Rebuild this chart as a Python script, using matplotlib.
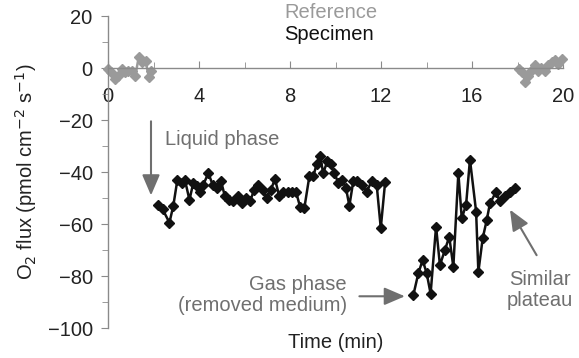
import numpy as np
import matplotlib
matplotlib.use("Agg")
import matplotlib.pyplot as plt
from matplotlib.ticker import MultipleLocator

plt.rcParams['font.family'] = ['Liberation Sans', 'DejaVu Sans']

# reference run (gray), before and after the measurement
ref1_t = [0.0, 0.15, 0.3, 0.45, 0.6, 0.75, 0.9, 1.05, 1.2, 1.35, 1.5, 1.65, 1.8, 1.9]
ref1_v = [-0.5, -1.7, -4.3, -3.0, -0.4, -1.7, -1.0, -1.2, -3.0, 4.1, 2.2, 2.8, -3.6, -1.0]
ref2_t = [18.05, 18.2, 18.35, 18.45, 18.6, 18.75, 18.9, 19.05, 19.2, 19.35, 19.5, 19.65, 19.8, 19.95]
ref2_v = [-0.4, -1.7, -5.5, -3.0, -1.0, 1.0, -1.0, 0.0, -1.0, 1.0, 2.2, 3.0, 1.5, 3.5]

# specimen, liquid phase
liq_t = [2.21, 2.40, 2.70, 2.87, 3.05, 3.24, 3.38, 3.58, 3.75, 3.93, 4.04, 4.19, 4.41, 4.60,
         4.78, 4.97, 5.14, 5.33, 5.51, 5.70, 5.88, 6.07, 6.24, 6.43, 6.61, 6.80, 6.97, 7.16,
         7.34, 7.53, 7.71, 7.90, 8.07, 8.26, 8.44, 8.63, 8.85, 9.02, 9.17, 9.32, 9.46, 9.64,
         9.79, 9.95, 10.12, 10.30, 10.46, 10.61, 10.78, 10.96, 11.15, 11.37, 11.59, 11.81,
         11.99, 12.18]
liq_v = [-52.6, -54.3, -59.5, -53.0, -43.0, -44.2, -43.0, -50.7, -44.2, -45.5, -47.5, -44.9,
         -40.4, -44.9, -46.2, -43.6, -49.4, -50.7, -51.3, -49.4, -52.0, -50.0, -51.3, -46.8,
         -44.9, -46.8, -50.0, -46.8, -42.7, -49.4, -47.5, -47.5, -47.5, -47.5, -53.3, -53.9,
         -41.7, -41.7, -37.1, -33.7, -40.4, -35.9, -37.1, -40.4, -44.2, -42.9, -46.2, -53.0,
         -43.6, -43.6, -44.9, -47.5, -43.6, -44.9, -61.6, -44.0]

# specimen, gas phase
gas_t = [13.42, 13.64, 13.83, 14.01, 14.18, 14.42, 14.59, 14.81, 15.00, 15.18, 15.40, 15.55,
         15.74, 15.91, 16.18, 16.28, 16.47, 16.65, 16.79, 17.05, 17.23, 17.45, 17.67, 17.89]
gas_v = [-87.4, -79.0, -73.9, -79.0, -86.8, -61.0, -75.8, -70.0, -64.9, -76.5, -40.4, -57.8,
         -52.6, -35.2, -55.2, -78.4, -65.5, -58.4, -52.0, -47.8, -51.3, -49.4, -47.5, -46.2]

gray_line = '#9a9a9a'
axis_col = '#8a8a8a'
note_col = '#6f6f6f'
fs = 14.5

fig = plt.figure(figsize=(5.79, 3.58), dpi=100)
ax = fig.add_axes([108 / 579, 1 - 328 / 358, (563 - 108) / 579, (328 - 16) / 358])

ax.plot(ref1_t, ref1_v, color=gray_line, marker='D', ms=5, lw=1.8, clip_on=False, label='Reference')
ax.plot(ref2_t, ref2_v, color=gray_line, marker='D', ms=5, lw=1.8, clip_on=False)
ax.plot(liq_t, liq_v, color='#111111', marker='D', ms=5, lw=1.8, label='Specimen')
ax.plot(gas_t, gas_v, color='#111111', marker='D', ms=5, lw=1.8)

ax.set_xlim(0, 20)
ax.set_ylim(-100, 20)
for s in ['top', 'right']:
    ax.spines[s].set_visible(False)
ax.spines['bottom'].set_position(('data', 0))
ax.spines['bottom'].set_bounds(0, 20)
for s in ['left', 'bottom']:
    ax.spines[s].set_color(axis_col)
    ax.spines[s].set_linewidth(1.0)

ax.set_xticks([0, 4, 8, 12, 16, 20])
ax.xaxis.set_minor_locator(MultipleLocator(2))
ax.set_yticks([20, 0, -20, -40, -60, -80, -100])
ax.set_yticklabels(['20', '0', '\u221220', '\u221240', '\u221260', '\u221280', '\u2212100'])
ax.yaxis.set_minor_locator(MultipleLocator(10))
ax.tick_params(axis='x', which='both', direction='in', color=axis_col, labelsize=fs,
               labelcolor='#222222', pad=14)
ax.tick_params(axis='x', which='major', length=5)
ax.tick_params(axis='x', which='minor', length=4)
ax.tick_params(axis='y', which='both', direction='out', color=axis_col, labelsize=fs,
               labelcolor='#222222', pad=6)
ax.tick_params(axis='y', which='major', length=5)
ax.tick_params(axis='y', which='minor', length=4)
ax.set_facecolor('none')

ax.set_ylabel('O$_2$ flux (pmol cm$^{-2}$ s$^{-1}$)', fontsize=fs, color='#222222', labelpad=6)
ax.text(0.5, -0.048, 'Time (min)', transform=ax.transAxes, ha='center', va='center',
        fontsize=fs, color='#222222')

leg = ax.legend(loc='upper center', bbox_to_anchor=(0.49, 1.1), frameon=False, fontsize=fs,
                handlelength=0, handletextpad=0, labelspacing=0.15,
                labelcolor=[gray_line, '#111111'])
for h in leg.legend_handles:
    h.set_visible(False)

arrow = dict(arrowstyle='-|>,head_length=0.7,head_width=0.3', color=note_col, lw=1.5,
             mutation_scale=18, shrinkA=0, shrinkB=0)
ax.annotate('', xy=(1.89, -49), xytext=(1.89, -20.5), arrowprops=arrow)
ax.text(2.5, -27.5, 'Liquid phase', fontsize=fs, color=note_col, ha='left', va='center')
ax.annotate('', xy=(13.05, -87.8), xytext=(11.05, -87.8), arrowprops=arrow)
ax.text(10.5, -87.3, 'Gas phase\n(removed medium)', fontsize=fs, color=note_col,
        ha='right', va='center', multialignment='right', linespacing=1.1)
ax.annotate('', xy=(17.67, -54.5), xytext=(18.84, -72), arrowprops=arrow)
ax.text(19.0, -85.4, 'Similar\nplateau', fontsize=fs, color=note_col,
        ha='center', va='center', linespacing=1.1)

fig.savefig('out.png', dpi=100)
